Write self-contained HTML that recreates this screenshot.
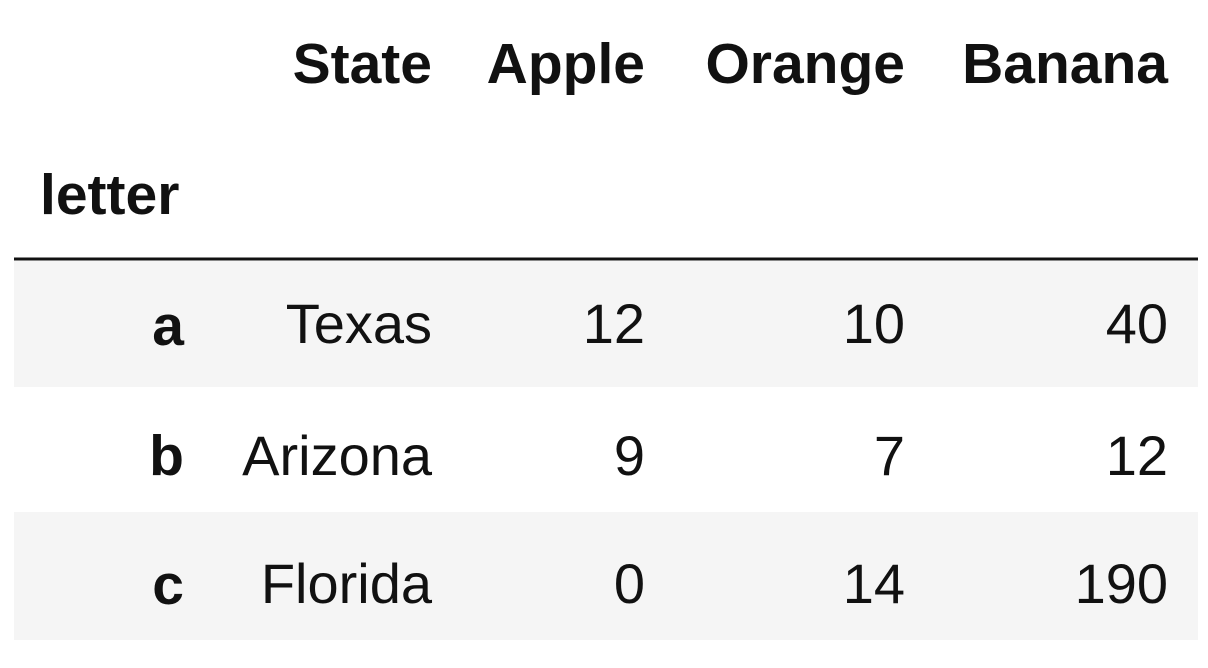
<!DOCTYPE html>
<html><head><meta charset="utf-8"><style>
html,body{margin:0;padding:0;background:#fff;width:1208px;height:668px;overflow:hidden}
svg text{font-family:"Liberation Sans",Arial,sans-serif;font-size:56px;fill:#111}
.b{font-weight:bold;font-size:57px}
</style></head><body>
<svg width="1208" height="668">
<rect x="14" y="261" width="1184" height="126" fill="#f5f5f5"/>
<rect x="14" y="512" width="1184" height="128" fill="#f5f5f5"/>
<line x1="14" y1="259" x2="1198" y2="259" stroke="#111" stroke-width="3"/>
<g text-anchor="end">
<text x="432" y="83" class="b">State</text>
<text x="645" y="83" class="b">Apple</text>
<text x="905" y="83" class="b">Orange</text>
<text x="1168" y="83" class="b">Banana</text>
</g>
<text x="40" y="214" class="b">letter</text>
<g text-anchor="end">
<text x="184" y="345" class="b">a</text>
<text x="432" y="343">Texas</text>
<text x="645" y="343">12</text>
<text x="905" y="343">10</text>
<text x="1168" y="343">40</text>
<text x="184" y="475" class="b">b</text>
<text x="432" y="475">Arizona</text>
<text x="645" y="475">9</text>
<text x="905" y="475">7</text>
<text x="1168" y="475">12</text>
<text x="184" y="604" class="b">c</text>
<text x="432" y="603">Florida</text>
<text x="645" y="603">0</text>
<text x="905" y="603">14</text>
<text x="1168" y="603">190</text>
</g>
</svg>
</body></html>
